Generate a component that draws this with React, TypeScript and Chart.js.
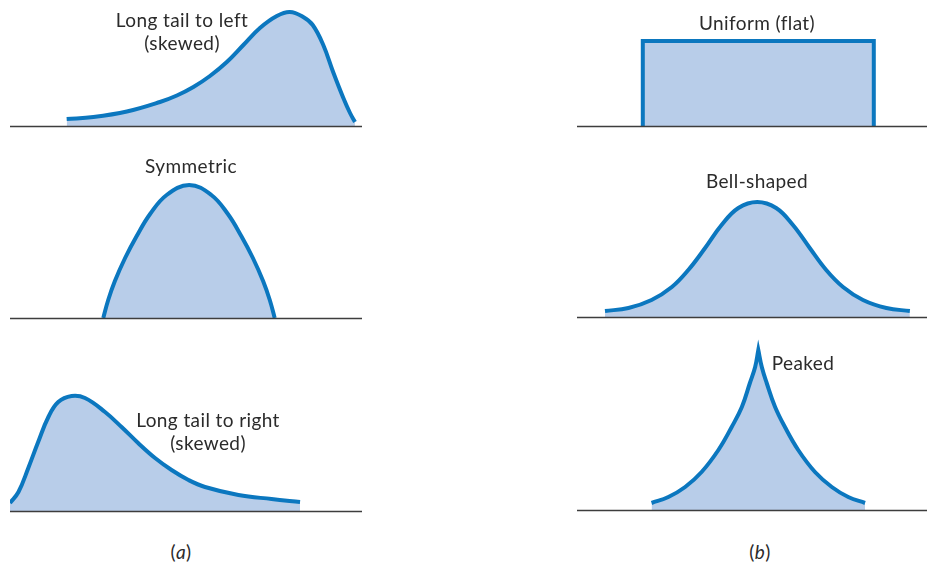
import React, { useEffect, useRef } from "react";
import { Chart, registerables } from "chart.js";

Chart.register(...registerables);

// Each panel: x on a 0–100 scale along its baseline, y = relative frequency (arbitrary units)
const leftSkewX = [16.1, 23.7, 33.2, 42.6, 47.4, 52.1, 56.8, 61.6, 66.3, 71.0, 75.8, 79.5, 83.3, 86.0, 89.0, 91.8, 94.7, 96.6, 98.0];
const leftSkewY = [7, 9, 14.5, 24, 30.5, 39, 50, 64, 81, 98, 110, 114, 109, 101, 81, 54, 28, 13, 4];

const symmetricX = [26.5, 27.9, 29.8, 32.7, 36.0, 39.8, 44.5, 50.9, 57.2, 61.9, 65.7, 69.0, 71.9, 73.8, 75.2];
const symmetricY = [0, 18, 37, 60, 82, 104, 123, 133, 123, 104, 82, 60, 37, 18, 0];

const rightSkewX = [0, 2.4, 5.2, 8.0, 10.9, 13.7, 17.5, 21.3, 27.0, 31.7, 36.4, 41.2, 45.9, 50.7, 55.4, 64.9, 74.3, 82.4];
const rightSkewY = [8, 19, 43, 69, 94, 109, 115, 113, 99, 84, 68, 53, 41, 31, 24, 16, 12, 9];

const uniformX = [18.8, 18.8, 84.8, 84.8];
const uniformY = [0, 85, 85, 0];

const bellX = [8.0, 14.7, 21.3, 27.1, 31.8, 36.6, 41.3, 46.1, 51.5, 56.9, 61.7, 66.5, 71.2, 76.0, 81.7, 88.4, 95.1];
const bellY = [6, 9, 17, 30, 47, 69, 92, 109, 115, 109, 92, 69, 47, 30, 17, 9, 6];

// The peak value is listed twice so the curve meets it from each side in a sharp cusp
const peakedX = [21.3, 26.1, 30.9, 35.6, 40.4, 44.2, 47.1, 49.4, 50.9, 51.8, 51.8, 52.8, 54.2, 56.6, 59.4, 63.2, 68.0, 72.8, 77.5, 82.3];
const peakedY = [7, 13, 23, 38, 60, 83, 103, 127, 143, 160, 160, 143, 127, 103, 83, 60, 38, 23, 13, 7];

const LINE = "#0b77bf";
const FILL = "#b8cde9";
const AXIS = "#3d3d3d";
const TEXT = "#2b2b2b";
const FONT = "Lato, 'Open Sans', sans-serif";
const PAD = 4;

type PanelProps = {
  xs: number[];
  ys: number[];
  left: number;
  width: number;
  baseline: number;
  yMax: number;
  smooth: boolean;
};

// Horizontal baseline along the x axis at y = 0
const baselinePlugin = {
  id: "baseline",
  afterDatasetsDraw(chart: any) {
    const { ctx, chartArea, scales } = chart;
    const y = Math.round(scales.y.getPixelForValue(0)) + 0.5;
    ctx.save();
    ctx.strokeStyle = AXIS;
    ctx.lineWidth = 1.6;
    ctx.beginPath();
    ctx.moveTo(chartArea.left, y);
    ctx.lineTo(chartArea.right, y);
    ctx.stroke();
    ctx.restore();
  },
};

function Panel({ xs, ys, left, width, baseline, yMax, smooth }: PanelProps) {
  const ref = useRef<HTMLCanvasElement | null>(null);
  const w = width + PAD * 2;
  const h = yMax + PAD * 2;

  useEffect(() => {
    if (!ref.current) return;
    const chart = new Chart(ref.current, {
      type: "line",
      data: {
        datasets: [
          {
            data: xs.map((x, i) => ({ x, y: ys[i] })),
            borderColor: LINE,
            borderWidth: 4,
            backgroundColor: FILL,
            fill: "origin",
            pointRadius: 0,
            tension: smooth ? 0.4 : 0,
            cubicInterpolationMode: "default",
            borderCapStyle: "butt",
            borderJoinStyle: "miter",
          },
        ],
      },
      options: {
        animation: false,
        responsive: false,
        devicePixelRatio: 1,
        events: [],
        layout: { padding: PAD },
        scales: {
          x: { type: "linear", min: 0, max: 100, display: false },
          y: { type: "linear", min: 0, max: yMax, display: false },
        },
        plugins: {
          legend: { display: false },
          tooltip: { enabled: false },
          title: { display: false },
        },
      },
      plugins: [baselinePlugin],
    } as any);
    return () => chart.destroy();
  }, []);

  return (
    <canvas
      ref={ref}
      width={w}
      height={h}
      style={{
        position: "absolute",
        left: left - PAD,
        top: baseline - yMax - PAD,
        width: w,
        height: h,
      }}
    />
  );
}

function Label({ x, y, children }: { x: number; y: number; children: React.ReactNode }) {
  return (
    <div
      style={{
        position: "absolute",
        left: x,
        top: y,
        transform: "translate(-50%, -50%)",
        whiteSpace: "nowrap",
        fontFamily: FONT,
        fontSize: 19,
        letterSpacing: "0.4px",
        lineHeight: "22px",
        color: TEXT,
      }}
    >
      {children}
    </div>
  );
}

export default function App() {
  return (
    <div
      style={{
        position: "fixed",
        left: 0,
        top: 0,
        width: 927,
        height: 564,
        background: "#ffffff",
        overflow: "hidden",
      }}
    >
      <Panel xs={leftSkewX} ys={leftSkewY} left={10} width={352} baseline={126} yMax={120} smooth />
      <Panel xs={symmetricX} ys={symmetricY} left={10} width={352} baseline={318} yMax={150} smooth />
      <Panel xs={rightSkewX} ys={rightSkewY} left={10} width={352} baseline={511} yMax={175} smooth />
      <Panel xs={uniformX} ys={uniformY} left={577} width={350} baseline={126} yMax={120} smooth={false} />
      <Panel xs={bellX} ys={bellY} left={577} width={350} baseline={317} yMax={150} smooth />
      <Panel xs={peakedX} ys={peakedY} left={577} width={350} baseline={510} yMax={175} smooth />

      <Label x={182} y={20}>Long tail to left</Label>
      <Label x={182} y={43}>(skewed)</Label>
      <Label x={191} y={166}>Symmetric</Label>
      <Label x={208} y={420}>Long tail to right</Label>
      <Label x={208} y={443}>(skewed)</Label>
      <Label x={757} y={23}>Uniform (flat)</Label>
      <Label x={757} y={181}>Bell-shaped</Label>
      <Label x={803} y={363}>Peaked</Label>
      <Label x={181} y={552}>
        (<span style={{ fontStyle: "italic" }}>a</span>)
      </Label>
      <Label x={760} y={552}>
        (<span style={{ fontStyle: "italic" }}>b</span>)
      </Label>
    </div>
  );
}
